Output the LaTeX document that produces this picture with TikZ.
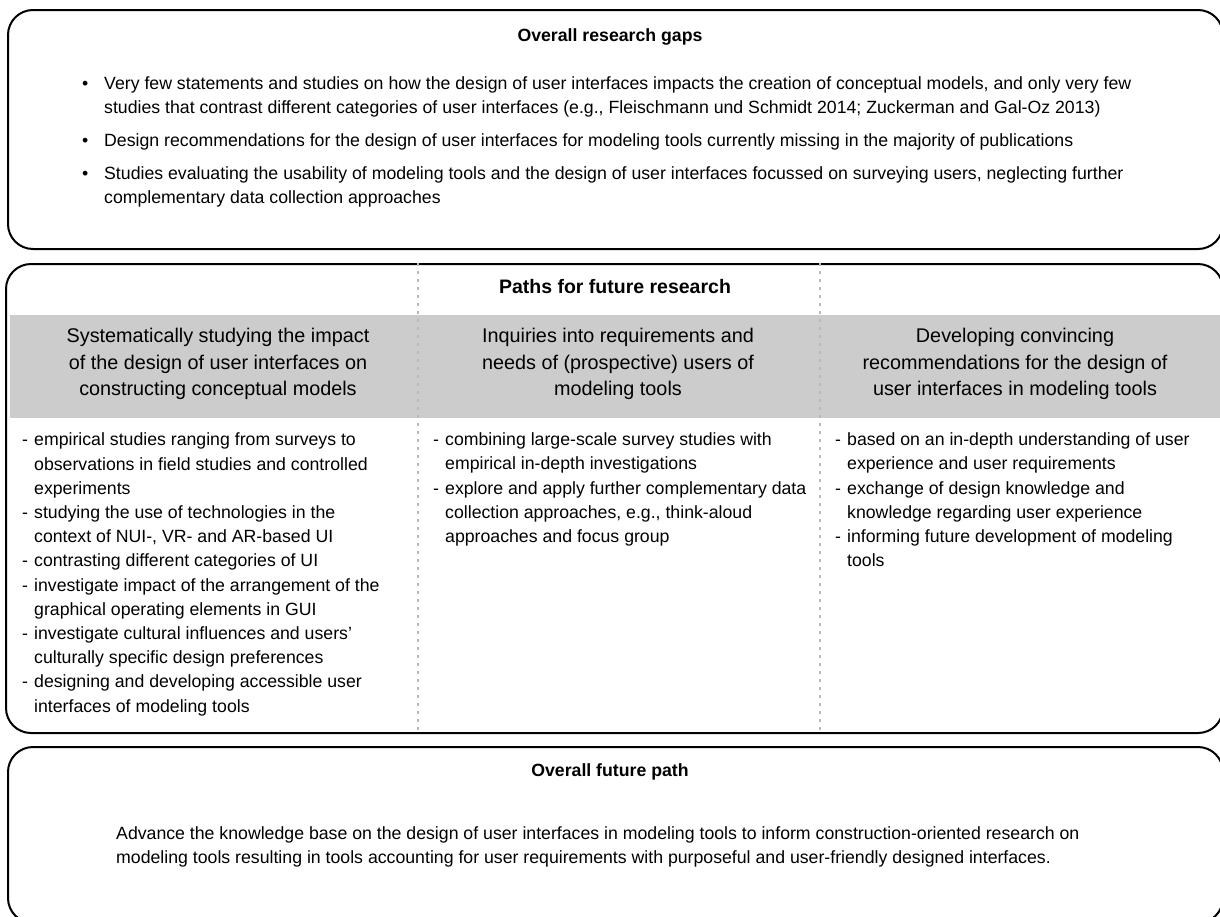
\documentclass[tikz,border=0pt]{standalone}
\usepackage{fontspec}
\setmainfont{Liberation Sans}
\usetikzlibrary{positioning}
\definecolor{bandgray}{RGB}{204,204,204}
\newcommand{\gapitem}{\makebox[22pt][l]{\textbullet}}
\newcommand{\gapindent}{\hspace*{22pt}}
\newcommand{\pathitem}{\makebox[12pt][l]{-}}
\newcommand{\pathindent}{\hspace*{12pt}}

\begin{document}
\begin{tikzpicture}[x=1pt,y=-1pt,
	panel/.style={draw,line width=2pt,rounded corners=25pt,anchor=north west,inner sep=0pt},
	paneltitle/.style={font=\bfseries\fontsize{17.7}{21}\selectfont,inner sep=0pt},
	pathhead/.style={font=\fontsize{19.8}{26.7}\selectfont,align=center,inner sep=0pt},
	bodytext/.style={font=\fontsize{17.7}{24.2}\selectfont,align=left,anchor=base west,inner sep=0pt},
	divider/.style={draw=gray!55,line width=1.5pt,dash pattern=on 3pt off 5pt}]
	\useasboundingbox (0,0) rectangle (1220,916);

	% the three panels, anchored at their upper left corners
	\node[panel,minimum width=1215pt,minimum height=239pt] (gaps) at (7,9) {};
	\node[panel,minimum width=1217pt,minimum height=469pt] (paths) at (5,263) {};
	\node[panel,minimum width=1215pt,minimum height=176pt] (future) at (7,746) {};

	% multi-line nodes are placed at the baseline of their last line
	\node[paneltitle] (gaps_t) at (610,37) {Overall research gaps};
	\node[bodytext,font=\fontsize{17.7}{24}\selectfont] (gaps_l) at (82,203) {%
		\gapitem Very few statements and studies on how the design of user interfaces impacts the creation of conceptual models, and only very few\\
		\gapindent studies that contrast different categories of user interfaces (e.g., Fleischmann und Schmidt 2014; Zuckerman and Gal-Oz 2013)\\[9pt]
		\gapitem Design recommendations for the design of user interfaces for modeling tools currently missing in the majority of publications\\[9pt]
		\gapitem Studies evaluating the usability of modeling tools and the design of user interfaces focussed on surveying users, neglecting further\\
		\gapindent complementary data collection approaches};

	\node[fill=bandgray,anchor=north west,minimum width=1212pt,minimum height=103pt,inner sep=0pt] (band) at (10,315) {};
	\draw[divider] (418,0 |- paths.north) -- (418,0 |- paths.south);
	\draw[divider] (820,0 |- paths.north) -- (820,0 |- paths.south);

	\node[paneltitle,font=\bfseries\fontsize{19.5}{23}\selectfont] (paths_t) at (615,287) {Paths for future research};
	\node[pathhead] (head_a) at (218,364) {Systematically studying the impact\\of the design of user interfaces on\\constructing conceptual models};
	\node[pathhead] (head_b) at (618,364) {Inquiries into requirements and\\needs of (prospective) users of\\modeling tools};
	\node[pathhead] (head_c) at (1015,364) {Developing convincing\\recommendations for the design of\\user interfaces in modeling tools};

	\node[bodytext] (list_a) at (22,712) {%
		\pathitem empirical studies ranging from surveys to\\
		\pathindent observations in field studies and controlled\\
		\pathindent experiments\\
		\pathitem studying the use of technologies in the\\
		\pathindent context of NUI-, VR- and AR-based UI\\
		\pathitem contrasting different categories of UI\\
		\pathitem investigate impact of the arrangement of the\\
		\pathindent graphical operating elements in GUI\\
		\pathitem investigate cultural influences and users’\\
		\pathindent culturally specific design preferences\\
		\pathitem designing and developing accessible user\\
		\pathindent interfaces of modeling tools};
	\node[bodytext] (list_b) at (433,542.4) {%
		\pathitem combining large-scale survey studies with\\
		\pathindent empirical in-depth investigations\\
		\pathitem explore and apply further complementary data\\
		\pathindent collection approaches, e.g., think-aloud\\
		\pathindent approaches and focus group};
	\node[bodytext] (list_c) at (835,566.6) {%
		\pathitem based on an in-depth understanding of user\\
		\pathindent experience and user requirements\\
		\pathitem exchange of design knowledge and\\
		\pathindent knowledge regarding user experience\\
		\pathitem informing future development of modeling\\
		\pathindent tools};

	\node[paneltitle] (future_t) at (610,772) {Overall future path};
	\node[bodytext,font=\fontsize{17.7}{24}\selectfont] (future_l) at (116,863) {%
		Advance the knowledge base on the design of user interfaces in modeling tools to inform construction-oriented research on\\
		modeling tools resulting in tools accounting for user requirements with purposeful and user-friendly designed interfaces.};
\end{tikzpicture}
\end{document}
